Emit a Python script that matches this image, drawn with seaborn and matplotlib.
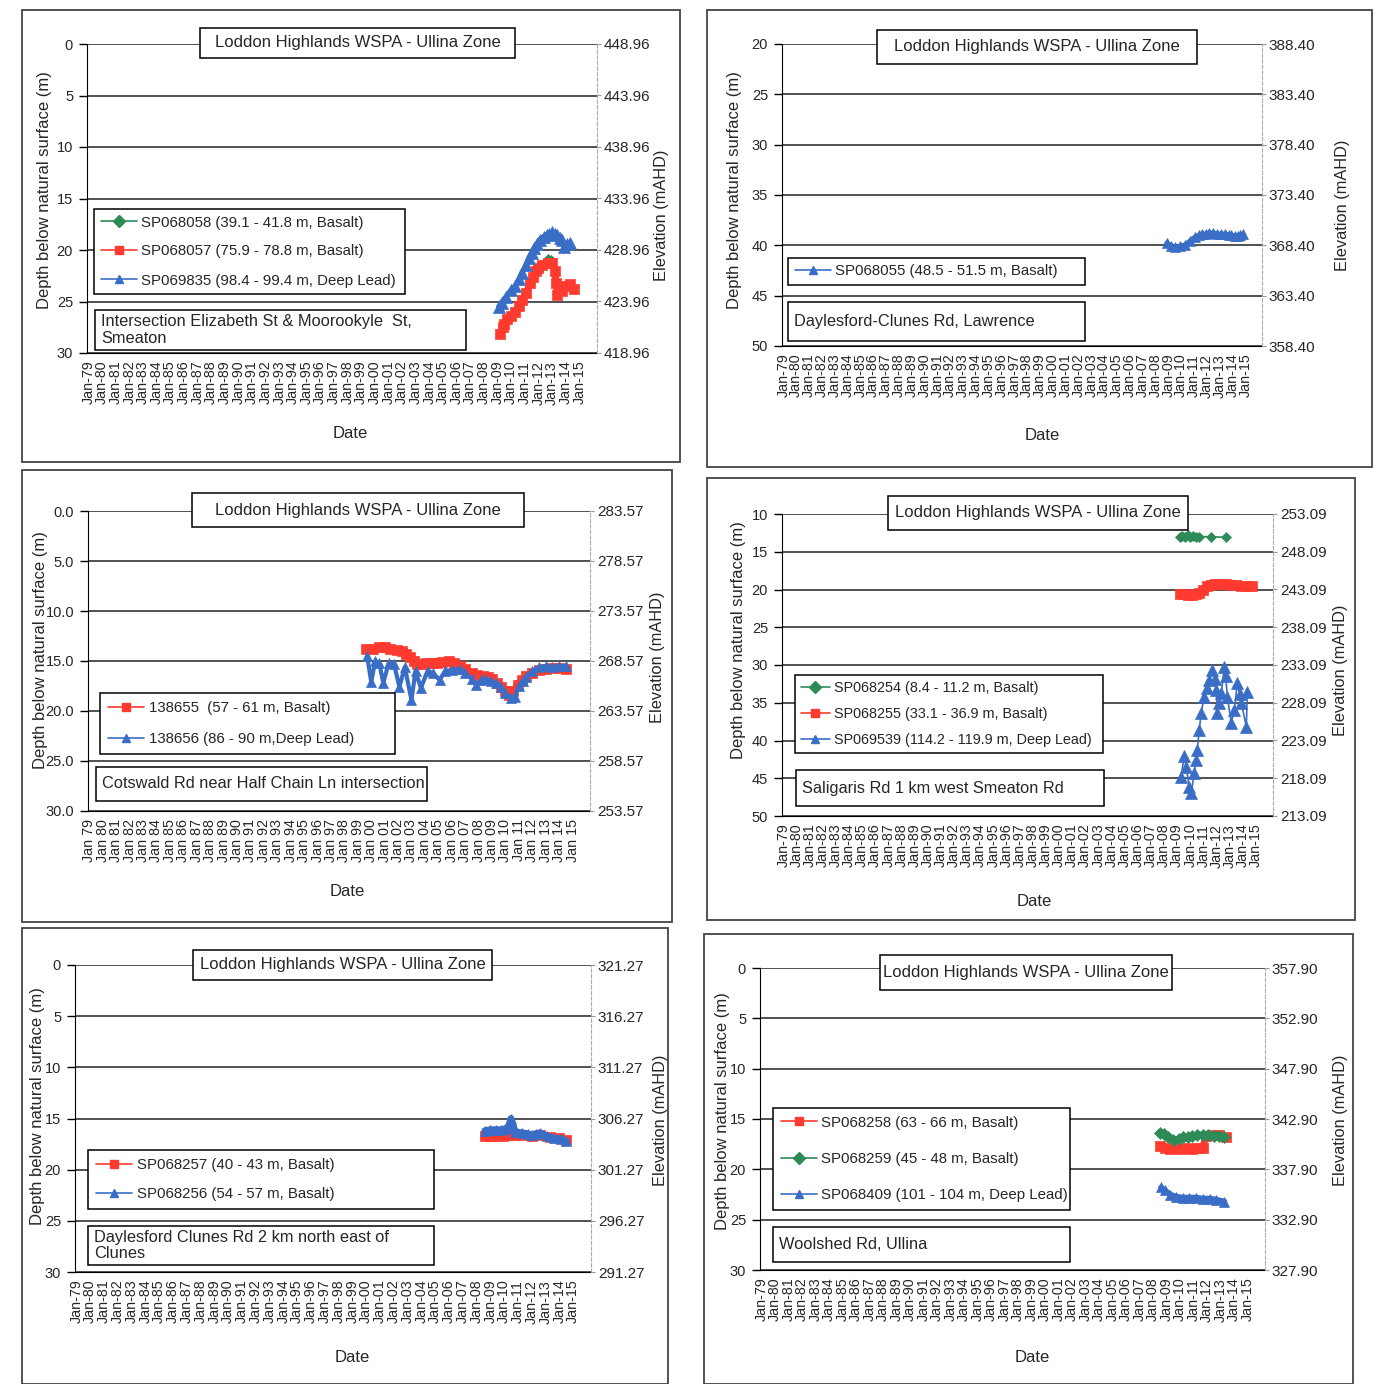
import numpy as np
import matplotlib.pyplot as plt
import seaborn as sns
from matplotlib.patches import Rectangle
from matplotlib.lines import Line2D

sns.set_style('white')
plt.rcParams['font.family'] = ['Liberation Sans', 'DejaVu Sans']

W, H = 1380, 1384
GREEN, RED, BLUE = '#2e8b57', '#ff3b2f', '#3a6ec6'

years = list(range(1979, 2016))

# ---- data (decimal year, depth below natural surface in m) ----
p1_green_yr = [2012.5, 2012.7, 2012.9]
p1_green_d = [21.2, 20.9, 21.0]
p1_red_yr = [2009.2, 2009.4, 2009.5, 2009.7, 2010.0, 2010.3, 2010.6, 2010.8, 2011.1, 2011.4, 2011.6,
             2011.8, 2012.0, 2012.3, 2012.7, 2013.0, 2013.2, 2013.3, 2013.4, 2013.7, 2014.0, 2014.3, 2014.6]
p1_red_d = [28.2, 27.5, 27.2, 26.7, 26.4, 26.0, 25.4, 24.9, 24.2, 23.2, 22.6,
            22.0, 21.7, 21.5, 21.3, 21.3, 22.0, 23.2, 24.4, 24.0, 23.5, 23.3, 23.8]
p1_blue_yr = [2009.1, 2009.3, 2009.6, 2010.0, 2010.3, 2010.6, 2010.8, 2011.1, 2011.3, 2011.5, 2011.7,
              2011.9, 2012.1, 2012.4, 2012.6, 2012.8, 2013.0, 2013.2, 2013.4, 2013.6, 2013.7, 2013.9, 2014.1, 2014.3]
p1_blue_d = [25.5, 25.1, 24.6, 23.9, 23.5, 22.8, 22.2, 21.5, 20.8, 20.3, 19.8,
             19.4, 19.0, 18.7, 18.5, 18.4, 18.3, 18.4, 18.5, 18.8, 19.0, 19.7, 19.4, 19.3]

p2_blue_yr = [2008.9, 2009.2, 2009.5, 2009.9, 2010.3, 2010.7, 2011.1, 2011.4, 2011.6, 2011.9, 2012.2,
              2012.5, 2012.8, 2013.1, 2013.4, 2013.7, 2013.9, 2014.2, 2014.4, 2014.6, 2014.8]
p2_blue_d = [39.8, 40.1, 40.2, 40.1, 40.0, 39.6, 39.2, 39.0, 38.9, 38.9, 38.8,
             38.8, 38.9, 38.9, 38.9, 39.0, 39.0, 39.1, 39.1, 39.0, 38.9]

p3_red_yr = [1999.6, 2000.1, 2000.6, 2001.0, 2001.4, 2001.9, 2002.3, 2002.6, 2002.9, 2003.2, 2003.4, 2003.8,
             2004.1, 2004.5, 2004.9, 2005.3, 2005.8, 2006.2, 2006.6, 2007.0, 2007.5, 2007.9, 2008.3, 2008.7,
             2009.0, 2009.4, 2009.7, 2010.0, 2010.3, 2010.6, 2010.9, 2011.2, 2011.5, 2012.0, 2012.5,
             2013.0, 2013.5, 2014.0, 2014.5]
p3_red_d = [13.8, 13.8, 13.6, 13.6, 13.8, 13.9, 14.0, 14.3, 14.6, 15.0, 15.3, 15.3,
            15.2, 15.2, 15.2, 15.1, 15.0, 15.2, 15.5, 15.8, 16.2, 16.4, 16.5, 16.6,
            16.8, 17.2, 17.6, 18.0, 18.4, 18.0, 17.4, 16.9, 16.5, 16.2, 15.9,
            15.8, 15.7, 15.7, 15.8]
p3_blue_yr = [1999.7, 2000.0, 2000.3, 2000.6, 2000.9, 2001.3, 2001.7, 2002.1, 2002.5, 2003.0, 2003.3, 2003.7,
              2004.2, 2004.6, 2005.1, 2005.5, 2006.0, 2006.6, 2007.0, 2007.5, 2007.8, 2008.2, 2008.5, 2008.9,
              2009.3, 2009.7, 2010.0, 2010.4, 2010.7, 2011.0, 2011.3, 2011.5, 2012.0, 2012.5, 2013.0,
              2013.5, 2014.0, 2014.5]
p3_blue_d = [14.5, 17.1, 15.0, 15.2, 17.2, 15.2, 15.3, 17.6, 15.6, 18.9, 16.0, 17.7,
             16.0, 16.2, 16.9, 16.0, 15.9, 15.8, 16.2, 16.8, 17.4, 16.9, 16.8, 17.0,
             17.2, 17.6, 18.2, 18.7, 18.6, 17.5, 17.0, 16.6, 16.0, 15.6, 15.5,
             15.6, 15.5, 15.5]

p4_green_yr = [2009.2, 2009.4, 2009.6, 2009.8, 2010.0, 2010.2, 2010.4, 2010.7, 2011.6, 2012.7]
p4_green_d = [13.1, 12.9, 13.0, 12.8, 13.0, 12.9, 13.1, 13.0, 13.0, 13.1]
p4_red_yr = [2009.2, 2009.5, 2009.8, 2010.1, 2010.4, 2010.7, 2011.0, 2011.3, 2011.6, 2011.9, 2012.3,
             2012.7, 2013.1, 2013.5, 2013.9, 2014.3, 2014.7]
p4_red_d = [20.6, 20.6, 20.7, 20.7, 20.6, 20.4, 20.0, 19.6, 19.4, 19.3, 19.3,
            19.3, 19.4, 19.4, 19.5, 19.5, 19.6]
p4_blue_yr = [2009.30, 2009.53, 2009.69, 2009.92, 2010.07, 2010.30, 2010.45, 2010.53, 2010.68, 2010.83,
              2011.06, 2011.25, 2011.44, 2011.67, 2011.85, 2011.98, 2012.05, 2012.20, 2012.36, 2012.59,
              2012.70, 2012.82, 2013.12, 2013.35, 2013.58, 2013.75, 2013.89, 2014.27, 2014.34]
p4_blue_d = [44.8, 42.1, 43.5, 46.2, 47.0, 44.3, 42.6, 41.3, 38.6, 36.4,
             34.2, 33.0, 32.0, 30.7, 31.8, 33.3, 36.4, 35.0, 33.7, 30.3,
             31.5, 34.2, 37.7, 36.0, 32.4, 33.8, 35.0, 38.2, 33.6]

p5_red_yr = [2008.6, 2009.0, 2009.5, 2009.9, 2010.3, 2010.7, 2011.3, 2012.0, 2012.6, 2013.3, 2014.0, 2014.5]
p5_red_d = [16.7, 16.7, 16.7, 16.7, 16.6, 16.6, 16.6, 16.7, 16.6, 16.8, 16.9, 17.1]
p5_blue_yr = [2008.6, 2009.0, 2009.4, 2009.8, 2010.1, 2010.3, 2010.5, 2010.8, 2011.3, 2011.7, 2012.0,
              2012.3, 2012.6, 2013.1, 2013.6, 2014.1, 2014.5]
p5_blue_d = [16.2, 16.1, 16.1, 16.1, 16.0, 15.9, 15.0, 16.3, 16.4, 16.5, 16.6,
             16.5, 16.4, 16.7, 16.9, 17.0, 17.2]

p6_red_yr = [2008.5, 2008.9, 2009.3, 2009.7, 2010.1, 2010.5, 2010.9, 2011.3, 2011.7, 2011.9, 2012.4, 2012.9, 2013.4]
p6_red_d = [17.7, 17.9, 18.0, 17.9, 18.0, 17.9, 18.0, 17.9, 17.9, 16.7, 16.6, 16.6, 16.8]
p6_green_yr = [2008.5, 2008.8, 2009.1, 2009.5, 2009.9, 2010.2, 2010.6, 2010.9, 2011.3, 2011.7, 2012.1,
               2012.5, 2012.9, 2013.3]
p6_green_d = [16.4, 16.5, 16.8, 17.1, 17.0, 16.8, 16.8, 16.7, 16.6, 16.6, 16.6, 16.7, 16.7, 16.8]
p6_blue_yr = [2008.6, 2008.9, 2009.3, 2009.7, 2010.2, 2010.7, 2011.2, 2011.7, 2012.2, 2012.7, 2013.3]
p6_blue_d = [21.8, 22.1, 22.5, 22.7, 22.8, 22.8, 22.8, 22.9, 22.9, 23.0, 23.2]

TITLE = "Loddon Highlands WSPA - Ullina Zone"

# series: label, x, y, colour, marker, marker size, line width
panels = [
    dict(ax=(87, 44, 597, 353), frame=(22, 10, 680, 462), ylim=(0, 30), fmt='{:.0f}', elev=448.96, sep='-',
         title=(200, 28, 515, 58), leg=(94, 210, 405, 293), lsp=1.0, lpad=0.45, lfs=10.8, hl=2.4,
         loc=(95, 310, 466, 350), loc_text="Intersection Elizabeth St & Moorookyle  St,\nSmeaton",
         ylab=(44, 190), rlab=(662, 215), xlab=(350, 434),
         series=[("SP068058 (39.1 - 41.8 m, Basalt)", p1_green_yr, p1_green_d, GREEN, 'D', 5, 1.5),
                 ("SP068057 (75.9 - 78.8 m, Basalt)", p1_red_yr, p1_red_d, RED, 's', 7, 5),
                 ("SP069835 (98.4 - 99.4 m, Deep Lead)", p1_blue_yr, p1_blue_d, BLUE, '^', 8, 4)]),
    dict(ax=(782, 44, 1262, 346), frame=(707, 10, 1372, 467), ylim=(20, 50), fmt='{:.0f}', elev=408.40, sep='-',
         title=(877, 30, 1197, 64), leg=(788, 255, 1085, 288), lsp=0.6, lpad=0.45, lfs=10.8, hl=2.4,
         loc=(788, 302, 1085, 341), loc_text="Daylesford-Clunes Rd, Lawrence",
         ylab=(735, 190), rlab=(1343, 205), xlab=(1042, 436),
         series=[("SP068055 (48.5 - 51.5 m, Basalt)", p2_blue_yr, p2_blue_d, BLUE, '^', 7, 4)]),
    dict(ax=(88, 511, 590, 811), frame=(22, 470, 672, 922), ylim=(0, 30), fmt='{:.1f}', elev=283.57, sep=' ',
         title=(192, 493, 524, 527), leg=(100, 692, 395, 755), lsp=1.1, lpad=0.55, lfs=10.8, hl=2.4,
         loc=(96, 767, 427, 801), loc_text="Cotswald Rd near Half Chain Ln intersection",
         ylab=(41, 650), rlab=(658, 657), xlab=(347, 892),
         series=[("138655  (57 - 61 m, Basalt)", p3_red_yr, p3_red_d, RED, 's', 7, 5),
                 ("138656 (86 - 90 m,Deep Lead)", p3_blue_yr, p3_blue_d, BLUE, '^', 7, 3)]),
    dict(ax=(782, 514, 1273, 816), frame=(707, 478, 1355, 920), ylim=(10, 50), fmt='{:.0f}', elev=263.09, sep='-',
         title=(888, 496, 1188, 530), leg=(795, 673, 1103, 755), lsp=0.85, lpad=0.4, lfs=10.4, hl=2.0,
         loc=(796, 770, 1104, 806), loc_text="Saligaris Rd 1 km west Smeaton Rd",
         ylab=(738, 640), rlab=(1340, 670), xlab=(1034, 902),
         series=[("SP068254 (8.4 - 11.2 m, Basalt)", p4_green_yr, p4_green_d, GREEN, 'D', 5, 1.2),
                 ("SP068255 (33.1 - 36.9 m, Basalt)", p4_red_yr, p4_red_d, RED, 's', 7, 5),
                 ("SP069539 (114.2 - 119.9 m, Deep Lead)", p4_blue_yr, p4_blue_d, BLUE, '^', 9, 1.2)]),
    dict(ax=(75, 965, 591, 1272), frame=(22, 928, 668, 1384), ylim=(0, 30), fmt='{:.0f}', elev=321.27, sep='-',
         title=(193, 950, 492, 980), leg=(88, 1147, 434, 1212), lsp=1.0, lpad=0.55, lfs=10.8, hl=2.4,
         loc=(88, 1226, 434, 1265), loc_text="Daylesford Clunes Rd 2 km north east of\nClunes",
         ylab=(38, 1106), rlab=(660, 1120), xlab=(352, 1357),
         series=[("SP068257 (40 - 43 m, Basalt)", p5_red_yr, p5_red_d, RED, 's', 7, 5),
                 ("SP068256 (54 - 57 m, Basalt)", p5_blue_yr, p5_blue_d, BLUE, '^', 7, 5)]),
    dict(ax=(760, 968, 1265, 1270), frame=(704, 934, 1353, 1384), ylim=(0, 30), fmt='{:.0f}', elev=357.90, sep='-',
         title=(880, 955, 1172, 990), leg=(773, 1105, 1070, 1213), lsp=1.5, lpad=0.5, lfs=10.8, hl=2.4,
         loc=(773, 1227, 1070, 1262), loc_text="Woolshed Rd, Ullina",
         ylab=(723, 1111), rlab=(1340, 1120), xlab=(1032, 1357),
         series=[("SP068258 (63 - 66 m, Basalt)", p6_red_yr, p6_red_d, RED, 's', 7, 5),
                 ("SP068259 (45 - 48 m, Basalt)", p6_green_yr, p6_green_d, GREEN, 'D', 6, 5),
                 ("SP068409 (101 - 104 m, Deep Lead)", p6_blue_yr, p6_blue_d, BLUE, '^', 7, 4)]),
]

fig = plt.figure(figsize=(13.8, 13.84), dpi=100)


def frac(box, x, y):
    l, t, r, b = box
    return (x - l) / (r - l), (b - y) / (b - t)


for p in panels:
    l, t, r, b = p['ax']
    fl, ft, fr, fb = p['frame']
    fig.add_artist(Rectangle((fl / W, 1 - fb / H), (fr - fl) / W, (fb - ft) / H, transform=fig.transFigure,
                             fill=False, ec='#444444', lw=1.3))

    ax = fig.add_axes([l / W, 1 - b / H, (r - l) / W, (b - t) / H])
    for lab, xs, ys, c, m, ms, lw in p['series']:
        sns.lineplot(x=xs, y=ys, ax=ax, color=c, marker=m, markersize=ms, markeredgecolor=c,
                     markeredgewidth=0.5, linewidth=lw, estimator=None, sort=False, legend=False, zorder=3)

    y0, y1 = p['ylim']
    ticks = list(range(y0, y1 + 1, 5))
    ax.set_ylim(y1, y0)
    ax.set_xlim(1978.9, 2016.3)
    ax.set_yticks(ticks)
    ax.set_yticklabels([p['fmt'].format(v) for v in ticks], fontsize=10.5)
    ax.set_xticks(years)
    ax.set_xticklabels([f"Jan{p['sep']}{y % 100:02d}" for y in years], rotation=90, fontsize=10.3)
    ax.tick_params(axis='x', direction='inout', length=7, width=1, color='black', pad=2)
    ax.tick_params(axis='y', direction='out', length=6, width=1, color='black', pad=4)
    ax.grid(False)
    ax.yaxis.grid(True, color='#222222', lw=1.1)
    ax.spines['top'].set_visible(False)
    ax.spines['left'].set_color('black')
    ax.spines['bottom'].set_color('black')
    ax.spines['right'].set_visible(False)

    ax2 = ax.twinx()
    ax2.set_ylim(p['elev'] - y1, p['elev'] - y0)
    ax2.set_yticks([p['elev'] - v for v in ticks])
    ax2.set_yticklabels(['{:.2f}'.format(p['elev'] - v) for v in ticks], fontsize=11)
    ax2.tick_params(axis='y', direction='out', length=3, color='#999999', pad=2)
    for s in ['top', 'left', 'bottom']:
        ax2.spines[s].set_visible(False)
    ax2.spines['right'].set_color('#aaaaaa')
    ax2.spines['right'].set_linestyle((0, (3, 2)))
    ax2.grid(False)

    # axis labels
    ax.set_xlabel("Date", fontsize=12)
    ax.xaxis.set_label_coords(*frac(p['ax'], *p['xlab']))
    ax.xaxis.label.set_va('center')
    ax.set_ylabel("Depth below natural surface (m)", fontsize=12, va='center')
    ax.yaxis.set_label_coords(*frac(p['ax'], *p['ylab']))
    ax2.set_ylabel("Elevation (mAHD)", fontsize=11.8, va='center')
    ax2.yaxis.set_label_coords(*frac(p['ax'], *p['rlab']))

    # title box
    tl, tt, tr, tb = p['title']
    x0, yb = frac(p['ax'], tl, tb)
    x1, yt = frac(p['ax'], tr, tt)
    ax2.add_patch(Rectangle((x0, yb), x1 - x0, yt - yb, transform=ax.transAxes, fc='white', ec='black',
                            lw=1.1, clip_on=False, zorder=6))
    ax2.text((x0 + x1) / 2, (yb + yt) / 2, TITLE, transform=ax.transAxes, ha='center', va='center',
             fontsize=12, zorder=7)

    # location box
    ll, lt, lr, lb = p['loc']
    x0, yb = frac(p['ax'], ll, lb)
    x1, yt = frac(p['ax'], lr, lt)
    ax2.add_patch(Rectangle((x0, yb), x1 - x0, yt - yb, transform=ax.transAxes, fc='white', ec='black',
                            lw=1.1, clip_on=False, zorder=6))
    ax2.text(x0 + 0.012, (yb + yt) / 2, p['loc_text'], transform=ax.transAxes, ha='left', va='center',
             fontsize=11.8, linespacing=1.15, zorder=7)

    # legend
    gl, gt, gr, gb = p['leg']
    x0, yb = frac(p['ax'], gl, gb)
    x1, yt = frac(p['ax'], gr, gt)
    handles = [Line2D([], [], color=c, marker=m, markersize=6, markeredgecolor=c, lw=1.2)
               for lab, xs, ys, c, m, ms, lw in p['series']]
    labels = [s[0] for s in p['series']]
    leg = ax2.legend(handles, labels, loc='center', bbox_to_anchor=(x0, yb, x1 - x0, yt - yb),
                     bbox_transform=ax.transAxes, mode='expand', borderaxespad=0, fancybox=False,
                     edgecolor='black', framealpha=1, fontsize=p['lfs'], labelspacing=p['lsp'],
                     borderpad=p['lpad'], handlelength=p['hl'], handletextpad=0.3)
    leg.get_frame().set_linewidth(1.1)
    leg.set_zorder(8)

fig.savefig("out.png", dpi=100)
